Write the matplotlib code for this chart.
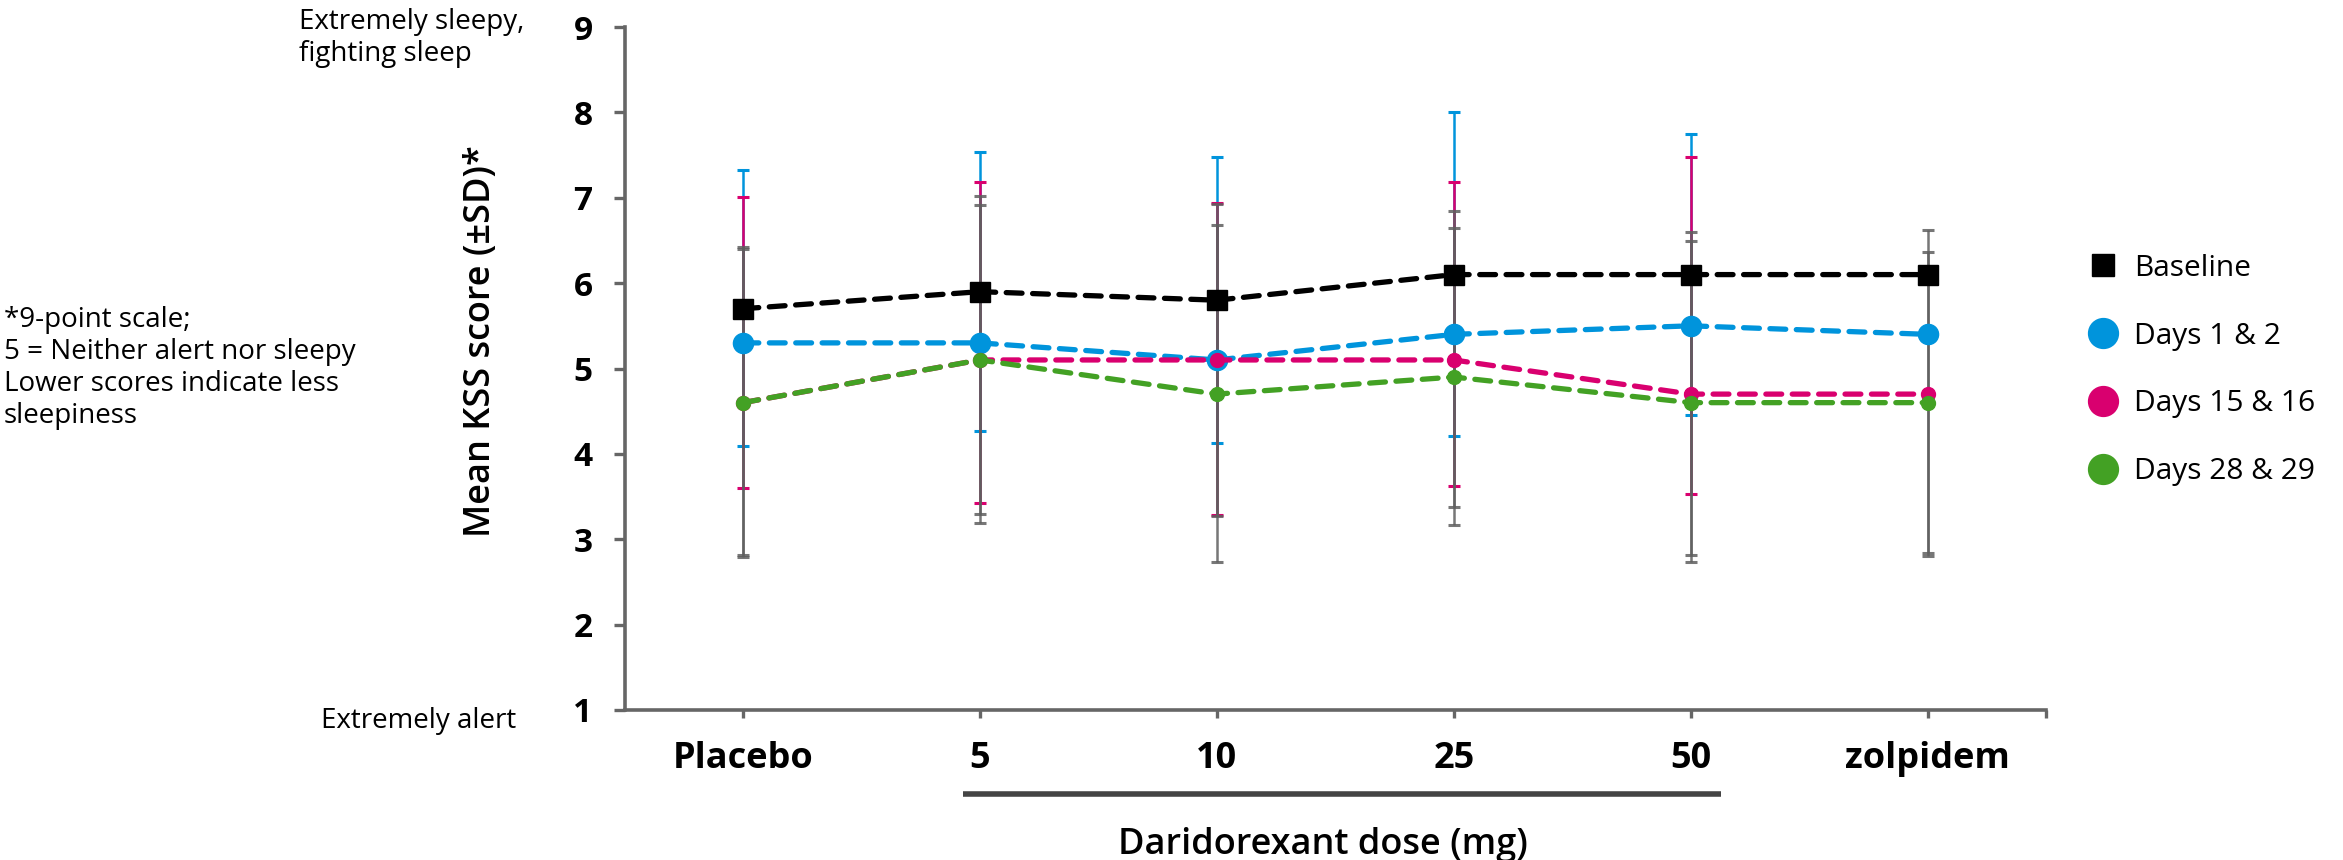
import numpy as np
import matplotlib
matplotlib.use("Agg")
import matplotlib.pyplot as plt
from matplotlib.lines import Line2D
from matplotlib.transforms import blended_transform_factory

plt.rcParams['font.family'] = ['Open Sans', 'DejaVu Sans']

# doses on the x axis
doses = ["Placebo", "5", "10", "25", "50", "zolpidem"]

# mean KSS per visit
baseline = [5.7, 5.9, 5.8, 6.1, 6.1, 6.1]
days_1_2 = [5.3, 5.3, 5.1, 5.4, 5.5, 5.4]
days_15_16 = [4.6, 5.1, 5.1, 5.1, 4.7, 4.7]
days_28_29 = [4.6, 5.1, 4.7, 4.9, 4.6, 4.6]

# SD whisker ends (upper / lower) as published; nan = no whisker
baseline_hi = [6.42, 7.02, 6.93, 6.84, 6.60, 6.62]
baseline_lo = [2.82, 3.29, 3.27, 3.38, 2.82, 2.84]
days_1_2_hi = [7.32, 7.54, 7.48, 8.00, 7.75, np.nan]
days_1_2_lo = [4.09, 4.27, 4.13, 4.21, 4.46, np.nan]
days_15_16_hi = [7.01, 7.18, 6.94, 7.19, 7.48, np.nan]
days_15_16_lo = [3.60, 3.43, 3.28, 3.62, 3.53, np.nan]
days_28_29_hi = [6.40, 6.91, 6.68, 6.64, 6.49, 6.37]
days_28_29_lo = [2.79, 3.19, 2.73, 3.17, 2.73, 2.80]

labels = ["Baseline", "Days 1 & 2", "Days 15 & 16", "Days 28 & 29"]

BLACK = "#000000"
BLUE = "#0094DC"
PINK = "#D9006F"
GREEN = "#43A124"
GREY = "#5f5f5f"

W, H = 2343, 860
fig = plt.figure(figsize=(W / 100, H / 100), dpi=100)
ax = fig.add_axes([624.5 / W, 1 - 710 / H, (2046 - 624.5) / W, (710 - 27) / H])

x = np.arange(len(doses))


def whiskers(hi, lo, color, z, alpha=1.0):
    hi = np.array(hi, dtype=float)
    lo = np.array(lo, dtype=float)
    ok = ~np.isnan(hi)
    ax.vlines(x[ok], lo[ok], hi[ok], colors=color, lw=1.8, zorder=z, alpha=alpha)
    ax.plot(x[ok], hi[ok], ls="none", marker="_", ms=9, mew=2.2, color=color, zorder=z, alpha=alpha)
    ax.plot(x[ok], lo[ok], ls="none", marker="_", ms=9, mew=2.2, color=color, zorder=z, alpha=alpha)


whiskers(days_1_2_hi, days_1_2_lo, BLUE, 2)
whiskers(days_15_16_hi, days_15_16_lo, PINK, 2.1)
whiskers(baseline_hi, baseline_lo, GREY, 2.2, 0.85)
whiskers(days_28_29_hi, days_28_29_lo, GREY, 2.3, 0.85)

series = [
    (baseline, BLACK, "s", 15),
    (days_1_2, BLUE, "o", 14.5),
    (days_15_16, PINK, "o", 10),
    (days_28_29, GREEN, "o", 10),
]
for i, (vals, col, mk, ms) in enumerate(series):
    ln, = ax.plot(x, vals, color=col, lw=3.8, marker=mk, ms=ms, mec=col, mfc=col,
                  zorder=3 + i, dash_capstyle="round")
    ln.set_dashes((3.0, 2.0))

ax.set_xlim(-0.5, 5.5)
ax.set_ylim(1, 9)
ax.set_yticks(range(1, 10))
ax.set_xticks(x)
ax.set_xticks([5.5], minor=True)
ax.set_xticklabels(doses)

for s in ["top", "right"]:
    ax.spines[s].set_visible(False)
for s in ["left", "bottom"]:
    ax.spines[s].set_color("#666666")
    ax.spines[s].set_linewidth(2.6)

ax.tick_params(axis="y", length=8, width=2.4, color="#666666", pad=15, labelsize=24)
ax.tick_params(axis="x", which="both", length=6, width=2.4, color="#666666", pad=16, labelsize=26)
for t in ax.get_yticklabels() + ax.get_xticklabels():
    t.set_fontweight("bold")

ax.set_ylabel("Mean KSS score (\u00b1SD)*", fontsize=26, fontweight="semibold")
ax.yaxis.set_label_coords(-0.101, 0.54)
ax.yaxis.label.set_va("center")

ax.set_xlabel("Daridorexant dose (mg)", fontsize=26, fontweight="semibold")
ax.xaxis.set_label_coords(0.4914, -0.197)
ax.xaxis.label.set_va("center")

# bracket under the daridorexant doses
tr = blended_transform_factory(ax.transData, fig.transFigure)
ax.plot([0.93, 4.13], [1 - 794 / H, 1 - 794 / H], color="#444444", lw=4,
        transform=tr, clip_on=False, solid_capstyle="butt")

# scale anchors and footnote
fig.text(299 / W, 1 - 38 / H, "Extremely sleepy,\nfighting sleep", fontsize=20,
         ha="left", va="center", linespacing=1.2)
fig.text(516 / W, 1 - 721 / H, "Extremely alert", fontsize=20, ha="right", va="center")
fig.text(4 / W, 1 - 368 / H,
         "*9-point scale;\n5 = Neither alert nor sleepy\nLower scores indicate less\nsleepiness",
         fontsize=20, ha="left", va="center", linespacing=1.2)

handles = [
    Line2D([], [], ls="none", marker="s", ms=16.5, color=BLACK),
    Line2D([], [], ls="none", marker="o", ms=21.5, color=BLUE),
    Line2D([], [], ls="none", marker="o", ms=21.5, color=PINK),
    Line2D([], [], ls="none", marker="o", ms=21.5, color=GREEN),
]
fig.legend(handles, labels, loc="center left", bbox_to_anchor=(2070 / W, 1 - 370 / H),
           frameon=False, fontsize=21.5, labelspacing=1.3, handlelength=1.2,
           handletextpad=0.45, borderpad=0)

fig.savefig("out.png", dpi=100)
